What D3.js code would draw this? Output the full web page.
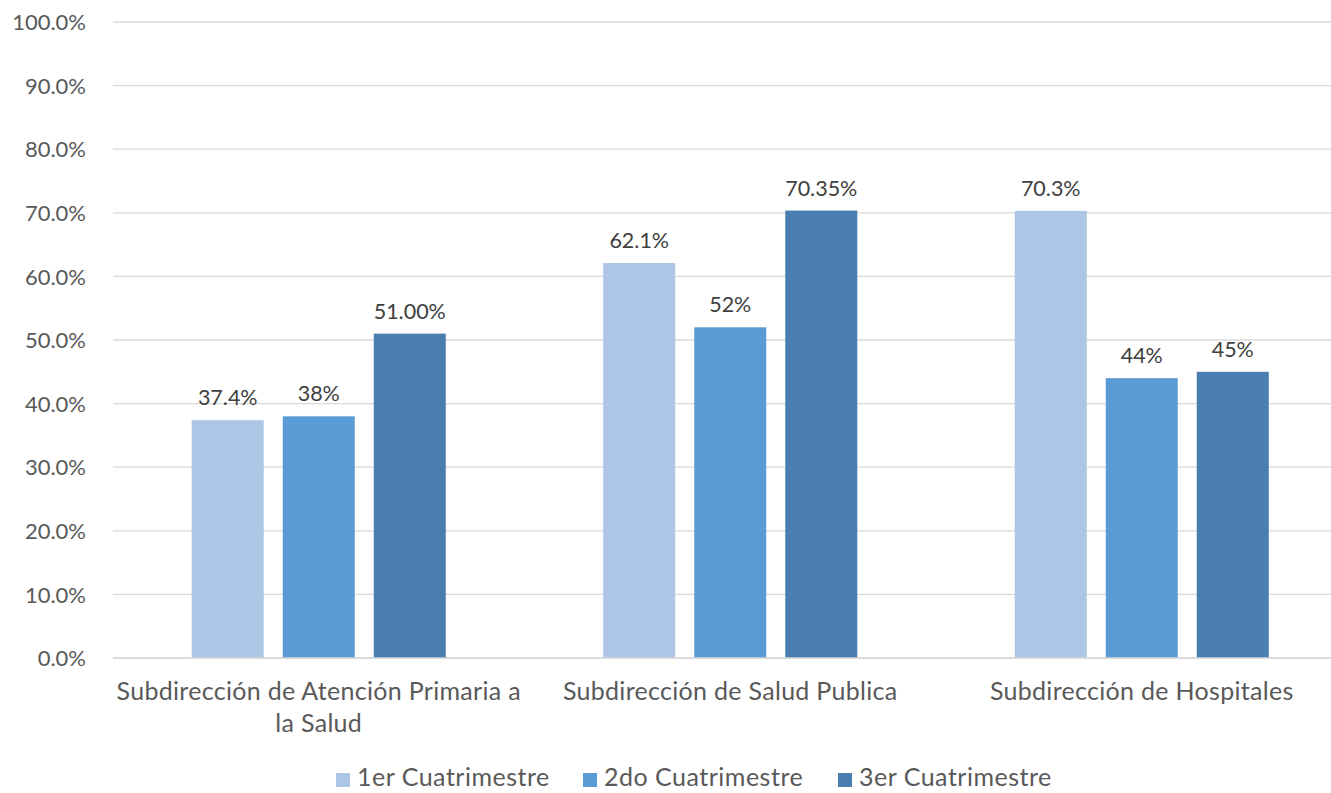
<!DOCTYPE html>
<html>
<head>
<meta charset="utf-8">
<script src="https://cdn.jsdelivr.net/npm/d3@7/dist/d3.min.js"></script>
<style>
  html, body { margin: 0; padding: 0; background: #fff; }
  svg { display: block; font-family: Lato, "Open Sans", sans-serif; }
</style>
</head>
<body>
<svg id="chart" width="1331" height="793"></svg>
<script>
// Categories and series
const categories = [
  ["Subdirección de Atención Primaria a", "la Salud"],
  ["Subdirección de Salud Publica"],
  ["Subdirección de Hospitales"]
];
const seriesNames = ["1er Cuatrimestre", "2do Cuatrimestre", "3er Cuatrimestre"];
const seriesColors = ["#adc6e6", "#5b9bd5", "#4a7eb0"];
const values1 = [37.4, 62.1, 70.3];
const values2 = [38, 52, 44];
const values3 = [51, 70.35, 45];
const labels1 = ["37.4%", "62.1%", "70.3%"];
const labels2 = ["38%", "52%", "44%"];
const labels3 = ["51.00%", "70.35%", "45%"];
const yTicks = [0, 10, 20, 30, 40, 50, 60, 70, 80, 90, 100];

const series = [
  { name: seriesNames[0], values: values1, labels: labels1, color: seriesColors[0] },
  { name: seriesNames[1], values: values2, labels: labels2, color: seriesColors[1] },
  { name: seriesNames[2], values: values3, labels: labels3, color: seriesColors[2] }
];

const svg = d3.select("#chart");
const plotLeft = 113, plotRight = 1347.5, plotTop = 22, plotBottom = 658;

const x0 = d3.scaleBand().domain(d3.range(categories.length)).range([plotLeft, plotRight]).padding(0);
const x1 = d3.scaleBand().domain(d3.range(series.length))
  .range([0, x0.bandwidth()]).paddingInner(19 / 91).paddingOuter(0.865);
const y = d3.scaleLinear().domain([0, 100]).range([plotBottom, plotTop]);

// Gridlines
svg.append("g").selectAll("line").data(yTicks).join("line")
  .attr("x1", plotLeft).attr("x2", 1331)
  .attr("y1", d => y(d)).attr("y2", d => y(d))
  .attr("stroke", "#d9d9d9").attr("stroke-width", 1.3);

// Y axis labels
const yAxis = d3.axisLeft(y).tickValues(yTicks).tickSize(0).tickPadding(0)
  .tickFormat(d => d.toFixed(1) + "%");
const ya = svg.append("g").attr("transform", `translate(86,0)`).call(yAxis);
ya.select(".domain").remove();
ya.selectAll("text").attr("fill", "#595959").style("font-size", "22px")
  .style("font-family", "Lato, sans-serif").attr("dy", "0.35em");

// Bars
const groups = svg.append("g").selectAll("g").data(series).join("g");
groups.selectAll("rect").data((s, si) => s.values.map((v, ci) => ({ v, ci, si, color: s.color })))
  .join("rect")
  .attr("x", d => x0(d.ci) + x1(d.si))
  .attr("width", x1.bandwidth())
  .attr("y", d => y(d.v))
  .attr("height", d => y(0) - y(d.v))
  .attr("fill", d => d.color);

// Value labels
groups.selectAll("text").data((s, si) => s.values.map((v, ci) => ({ v, ci, si, label: s.labels[ci] })))
  .join("text")
  .attr("x", d => x0(d.ci) + x1(d.si) + x1.bandwidth() / 2)
  .attr("y", d => y(d.v) - 15)
  .attr("text-anchor", "middle")
  .attr("fill", "#404040")
  .style("font-size", "21.5px")
  .text(d => d.label);

// Bottom baseline
svg.append("line").attr("x1", plotLeft).attr("x2", 1331)
  .attr("y1", plotBottom).attr("y2", plotBottom)
  .attr("stroke", "#d9d9d9").attr("stroke-width", 1.3);

// Category labels
const cat = svg.append("g").selectAll("text").data(categories).join("text")
  .attr("x", (d, i) => x0(i) + x0.bandwidth() / 2)
  .attr("y", 700)
  .attr("text-anchor", "middle")
  .attr("fill", "#595959")
  .style("font-size", "25px")
  .style("letter-spacing", "0.3px");
cat.selectAll("tspan").data(d => d).join("tspan")
  .attr("x", function () { return this.parentNode.getAttribute("x"); })
  .attr("dy", (d, i) => i === 0 ? 0 : 32)
  .text(d => d);

// Legend
const legendX = [336, 583, 838];
const lg = svg.append("g").selectAll("g").data(series).join("g")
  .attr("transform", (d, i) => `translate(${legendX[i]},786)`);
lg.append("rect").attr("x", 0).attr("y", -13).attr("width", 14).attr("height", 14)
  .attr("fill", d => d.color);
lg.append("text").attr("x", 21).attr("y", 0)
  .attr("fill", "#595959").style("font-size", "25px")
  .style("letter-spacing", "0.5px")
  .text(d => d.name);
</script>
</body>
</html>
